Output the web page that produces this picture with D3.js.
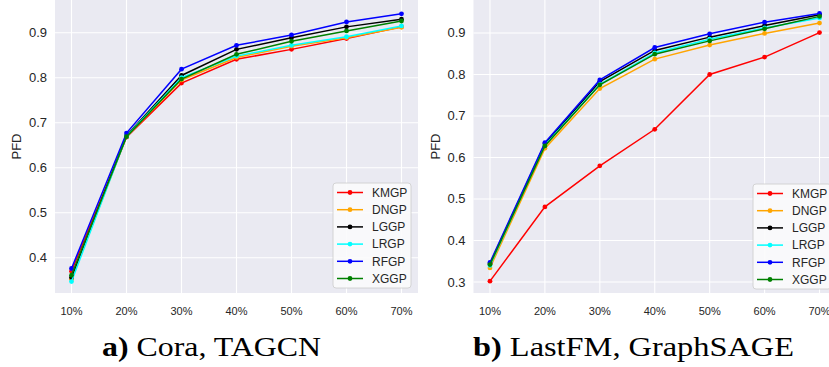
<!DOCTYPE html>
<html>
<head>
<meta charset="utf-8">
<script src="https://cdn.jsdelivr.net/npm/d3@7"></script>
<style>
  body { margin: 0; background: #fff; }
  svg { display: block; }
</style>
</head>
<body>
<div id="vis"></div>
<script>
const FRAME_WIDTH = 829;
const FRAME_HEIGHT = 367;

// categories and series
const labels = ["10%", "20%", "30%", "40%", "50%", "60%", "70%"];
const methods = ["KMGP", "DNGP", "LGGP", "LRGP", "RFGP", "XGGP"];
const colors = ["#ff0000", "#ffa500", "#000000", "#00ffff", "#0000ff", "#008000"];

// a) Cora, TAGCN
const coraKMGP = [0.370, 0.668, 0.788, 0.841, 0.863, 0.887, 0.913];
const coraDNGP = [0.352, 0.669, 0.795, 0.845, 0.870, 0.889, 0.912];
const coraLGGP = [0.356, 0.671, 0.805, 0.863, 0.889, 0.913, 0.930];
const coraLRGP = [0.347, 0.670, 0.800, 0.848, 0.872, 0.891, 0.915];
const coraRFGP = [0.376, 0.677, 0.819, 0.872, 0.895, 0.924, 0.942];
const coraXGGP = [0.361, 0.669, 0.797, 0.852, 0.881, 0.904, 0.926];

// b) LastFM, GraphSAGE
const fmKMGP = [0.302, 0.481, 0.580, 0.668, 0.800, 0.842, 0.901];
const fmDNGP = [0.334, 0.622, 0.766, 0.837, 0.871, 0.899, 0.924];
const fmLGGP = [0.344, 0.633, 0.783, 0.858, 0.890, 0.918, 0.944];
const fmLRGP = [0.340, 0.630, 0.776, 0.852, 0.885, 0.912, 0.936];
const fmRFGP = [0.347, 0.636, 0.787, 0.865, 0.898, 0.926, 0.947];
const fmXGGP = [0.342, 0.628, 0.775, 0.849, 0.881, 0.910, 0.940];

const coraTicks = [0.4, 0.5, 0.6, 0.7, 0.8, 0.9];
const fmTicks = [0.3, 0.4, 0.5, 0.6, 0.7, 0.8, 0.9];

const SVG = d3.select("#vis")
  .append("svg")
    .attr("width", FRAME_WIDTH)
    .attr("height", FRAME_HEIGHT);

function drawPanel(p) {
  const X_SCALE = d3.scaleLinear()
    .domain([-0.3, labels.length - 1 + 0.3])
    .range([p.left, p.right]);
  const Y_SCALE = d3.scaleLinear()
    .domain(p.yDomain)
    .range([p.bottom, p.top]);

  const g = SVG.append("g");

  // background
  g.append("rect")
    .attr("x", p.left).attr("y", p.top)
    .attr("width", p.right - p.left)
    .attr("height", p.bottom - p.top)
    .attr("fill", "#eaeaf2");

  // grid
  g.selectAll(".hgrid").data(p.ticks).enter()
    .append("line")
      .attr("x1", p.left).attr("x2", p.right)
      .attr("y1", d => Y_SCALE(d)).attr("y2", d => Y_SCALE(d))
      .attr("stroke", "#fff").attr("stroke-width", 1.1);
  g.selectAll(".vgrid").data(labels).enter()
    .append("line")
      .attr("x1", (d, i) => X_SCALE(i)).attr("x2", (d, i) => X_SCALE(i))
      .attr("y1", p.top).attr("y2", p.bottom)
      .attr("stroke", "#fff").attr("stroke-width", 1.1);

  // tick labels
  g.selectAll(".ylab").data(p.ticks).enter()
    .append("text")
      .attr("x", p.left - 8)
      .attr("y", d => Y_SCALE(d) + 4.5)
      .attr("text-anchor", "end")
      .attr("font-family", "Liberation Sans, Arial, sans-serif")
      .attr("font-size", 13)
      .attr("fill", "#262626")
      .text(d => d.toFixed(1));
  g.selectAll(".xlab").data(labels).enter()
    .append("text")
      .attr("x", (d, i) => X_SCALE(i))
      .attr("y", p.bottom + 22)
      .attr("text-anchor", "middle")
      .attr("font-family", "Liberation Sans, Arial, sans-serif")
      .attr("font-size", 11)
      .attr("fill", "#262626")
      .text(d => d);

  // y label
  g.append("text")
    .attr("transform", "translate(" + p.yLabelX + "," + ((p.top + p.bottom) / 2) + ") rotate(-90)")
    .attr("text-anchor", "middle")
    .attr("font-family", "Liberation Sans, Arial, sans-serif")
    .attr("font-size", 13)
    .attr("fill", "#262626")
    .text("PFD");

  // lines
  const line = d3.line()
    .x((d, i) => X_SCALE(i))
    .y(d => Y_SCALE(d));

  p.series.forEach((vals, k) => {
    g.append("path")
      .attr("d", line(vals))
      .attr("fill", "none")
      .attr("stroke", colors[k])
      .attr("stroke-width", 1.5);
    g.selectAll(".pt" + k).data(vals).enter()
      .append("circle")
        .attr("cx", (d, i) => X_SCALE(i))
        .attr("cy", d => Y_SCALE(d))
        .attr("r", 2.4)
        .attr("fill", colors[k]);
  });

  // legend
  const lg = g.append("g")
    .attr("transform", "translate(" + p.legendX + "," + p.legendY + ")");
  lg.append("rect")
    .attr("width", 78).attr("height", 105)
    .attr("rx", 3)
    .attr("fill", "#fbfbfc")
    .attr("fill-opacity", 0.9)
    .attr("stroke", "#cccccc")
    .attr("stroke-width", 0.8);
  methods.forEach((m, k) => {
    const yy = 9.5 + k * 17.2;
    lg.append("line")
      .attr("x1", 4).attr("x2", 30)
      .attr("y1", yy).attr("y2", yy)
      .attr("stroke", colors[k]).attr("stroke-width", 1.5);
    lg.append("circle")
      .attr("cx", 17).attr("cy", yy).attr("r", 2.4)
      .attr("fill", colors[k]);
    lg.append("text")
      .attr("x", 39).attr("y", yy + 4.3)
      .attr("font-family", "Liberation Sans, Arial, sans-serif")
      .attr("font-size", 12)
      .attr("fill", "#262626")
      .text(m);
  });

  // caption
  const cap = SVG.append("text")
    .attr("x", p.capX).attr("y", 355.5)
    .attr("font-family", "Liberation Serif, Times New Roman, serif")
    .attr("font-size", 27)
    .attr("fill", "#000")
    .attr("textLength", p.capW)
    .attr("lengthAdjust", "spacingAndGlyphs");
  cap.append("tspan").attr("font-weight", "bold").text(p.capBold);
  cap.append("tspan").text(" " + p.capText);
}

drawPanel({
  left: 55, right: 418, top: 0, bottom: 293,
  yDomain: [0.3216, 0.9727],
  ticks: coraTicks,
  series: [coraKMGP, coraDNGP, coraLGGP, coraLRGP, coraRFGP, coraXGGP],
  yLabelX: 21,
  legendX: 333, legendY: 183,
  capX: 102, capW: 219, capBold: "a)", capText: "Cora, TAGCN"
});

drawPanel({
  left: 473.5, right: 836, top: 0, bottom: 293,
  yDomain: [0.2735, 0.9795],
  ticks: fmTicks,
  series: [fmKMGP, fmDNGP, fmLGGP, fmLRGP, fmRFGP, fmXGGP],
  yLabelX: 440,
  legendX: 753, legendY: 184,
  capX: 473, capW: 321, capBold: "b)", capText: "LastFM, GraphSAGE"
});
</script>
</body>
</html>
